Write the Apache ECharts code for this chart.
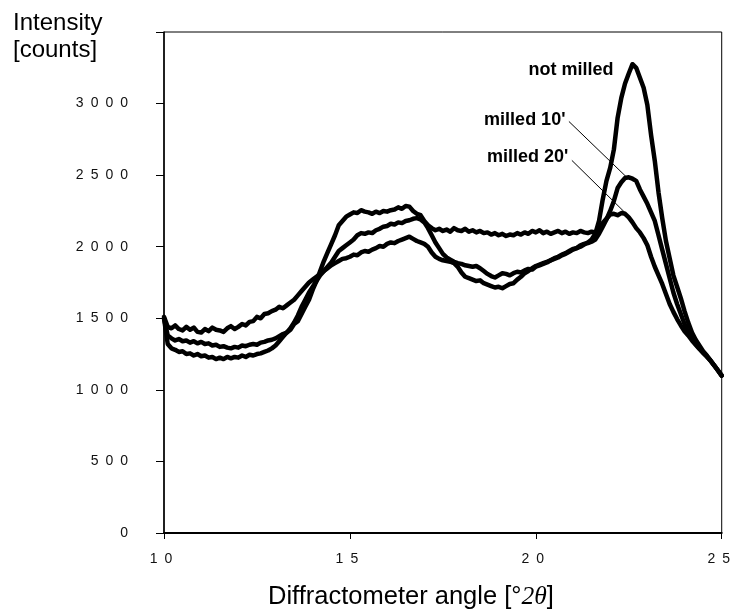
<!DOCTYPE html>
<html>
<head>
<meta charset="utf-8">
<script src="https://cdn.jsdelivr.net/npm/echarts@6/dist/echarts.min.js"></script>
<style>
html,body{margin:0;padding:0;background:#fff;}
#chart{width:733px;height:611px;}
</style>
</head>
<body>
<div id="chart"></div>
<script>
// Diffraction angle grid [°2θ]
const angles = [
10.0,10.1,10.2,10.3,10.4,10.5,10.6,10.7,10.8,10.9,
11.0,11.1,11.2,11.3,11.4,11.5,11.6,11.7,11.8,11.9,
12.0,12.1,12.2,12.3,12.4,12.5,12.6,12.7,12.8,12.9,
13.0,13.1,13.2,13.3,13.4,13.5,13.6,13.7,13.8,13.9,
14.0,14.1,14.2,14.3,14.4,14.5,14.6,14.7,14.8,14.9,
15.0,15.1,15.2,15.3,15.4,15.5,15.6,15.7,15.8,15.9,
16.0,16.1,16.2,16.3,16.4,16.5,16.6,16.7,16.8,16.9,
17.0,17.1,17.2,17.3,17.4,17.5,17.6,17.7,17.8,17.9,
18.0,18.1,18.2,18.3,18.4,18.5,18.6,18.7,18.8,18.9,
19.0,19.1,19.2,19.3,19.4,19.5,19.6,19.7,19.8,19.9,
20.0,20.1,20.2,20.3,20.4,20.5,20.6,20.7,20.8,20.9,
21.0,21.1,21.2,21.3,21.4,21.5,21.6,21.7,21.8,21.9,
22.0,22.1,22.2,22.3,22.4,22.5,22.6,22.7,22.8,22.9,
23.0,23.1,23.2,23.3,23.4,23.5,23.6,23.7,23.8,23.9,
24.0,24.1,24.2,24.3,24.4,24.5,24.6,24.7,24.8,24.9,
25.0];

const notMilled = [
1510,1440,1430,1450,1425,1415,1440,1420,1435,1405,
1400,1425,1410,1435,1420,1415,1405,1430,1445,1425,
1440,1460,1450,1475,1480,1510,1500,1530,1535,1550,
1560,1580,1570,1590,1610,1630,1660,1690,1720,1750,
1770,1790,1810,1830,1850,1870,1885,1900,1915,1920,
1930,1945,1940,1960,1970,1965,1980,1990,2005,2000,
2020,2030,2025,2040,2050,2060,2070,2055,2040,2030,
2020,2000,1960,1930,1915,1905,1900,1895,1885,1860,
1820,1790,1780,1770,1760,1765,1745,1735,1725,1715,
1720,1710,1725,1740,1745,1770,1790,1815,1830,1850,
1865,1875,1885,1895,1905,1915,1925,1940,1950,1965,
1980,1990,2000,2015,2030,2050,2090,2180,2330,2460,
2550,2680,2900,3040,3140,3210,3275,3250,3180,3110,
2990,2780,2600,2380,2200,2040,1920,1800,1720,1640,
1550,1470,1400,1350,1310,1270,1240,1205,1170,1135,
1100];

const milled10 = [
1500,1380,1360,1345,1355,1340,1345,1330,1340,1325,
1335,1320,1325,1310,1315,1300,1305,1295,1290,1300,
1295,1310,1305,1315,1320,1315,1330,1335,1345,1350,
1360,1375,1390,1400,1430,1470,1520,1580,1630,1680,
1720,1760,1800,1830,1860,1890,1930,1970,1990,2010,
2030,2050,2080,2095,2090,2100,2095,2115,2125,2140,
2145,2160,2155,2170,2165,2180,2185,2195,2200,2190,
2170,2130,2080,2030,1990,1950,1925,1910,1895,1885,
1880,1870,1865,1860,1865,1850,1830,1810,1795,1785,
1800,1815,1810,1800,1815,1825,1820,1835,1845,1840,
1860,1870,1880,1890,1905,1920,1930,1945,1955,1970,
1985,1990,2010,2020,2025,2035,2050,2090,2140,2190,
2250,2320,2410,2450,2480,2485,2475,2460,2400,2350,
2300,2240,2180,2080,1980,1880,1780,1680,1600,1530,
1460,1400,1360,1320,1290,1260,1235,1205,1170,1135,
1100];

const milled20 = [
1500,1320,1290,1280,1265,1270,1250,1255,1240,1250,
1235,1240,1225,1230,1215,1225,1215,1230,1220,1230,
1225,1240,1230,1245,1240,1250,1255,1265,1275,1290,
1310,1340,1370,1400,1420,1460,1480,1530,1580,1630,
1700,1760,1830,1900,1960,2020,2080,2150,2180,2210,
2225,2240,2235,2255,2245,2240,2230,2245,2235,2250,
2245,2255,2260,2275,2265,2285,2280,2250,2230,2220,
2180,2150,2130,2115,2125,2110,2120,2105,2130,2115,
2110,2125,2105,2115,2100,2110,2095,2100,2085,2095,
2080,2090,2075,2085,2080,2095,2085,2100,2090,2110,
2100,2115,2095,2105,2090,2100,2110,2095,2105,2090,
2100,2095,2110,2100,2095,2105,2100,2130,2165,2195,
2225,2230,2220,2235,2230,2205,2170,2130,2100,2060,
2010,1930,1860,1800,1740,1670,1600,1545,1495,1450,
1410,1380,1345,1315,1285,1258,1232,1203,1170,1135,
1100];

const seriesNames = ["not milled", "milled 10'", "milled 20'"];
const xTicks = [10, 15, 20, 25];
const yTicks = [0, 500, 1000, 1500, 2000, 2500, 3000, 3500];

const spaced = v => String(v).split('').join('\u2002');

const chart = echarts.init(document.getElementById('chart'), null, {renderer: 'canvas'});

const lineStyle = {color: '#000', width: 4.5, join: 'round', cap: 'round'};
function mkSeries(name, vals, extra) {
  return Object.assign({
    name: name,
    type: 'line',
    data: angles.map((a, i) => [a, vals[i]]),
    showSymbol: false,
    symbol: 'none',
    lineStyle: lineStyle,
    itemStyle: {color: '#000'},
    animation: false,
    z: 3
  }, extra || {});
}
const annoLabel = {
  show: true, position: 'left', distance: 0,
  fontFamily: 'Liberation Sans, Arial, sans-serif', fontSize: 18, fontWeight: 'bold', color: '#000'
};

const option = {
  animation: false,
  backgroundColor: '#fff',
  grid: {left: 164, right: 10, top: 32, bottom: 78, show: true, borderColor: '#000', borderWidth: 1, backgroundColor: 'transparent'},
  xAxis: {
    type: 'value', min: 10, max: 25, interval: 5,
    axisLine: {show: true, onZero: false, lineStyle: {color: '#000', width: 2}},
    axisTick: {show: true, inside: false, length: 6, lineStyle: {color: '#000', width: 1}},
    axisLabel: {
      margin: 19, color: '#111', fontSize: 14, fontFamily: 'Liberation Sans, Arial, sans-serif',
      padding: [0, 6, 0, 0],
      formatter: v => xTicks.includes(v) ? spaced(v) : ''
    },
    splitLine: {show: false}
  },
  yAxis: {
    type: 'value', min: 0, max: 3500, interval: 500,
    axisLine: {show: true, lineStyle: {color: '#000', width: 1.5}},
    axisTick: {show: true, inside: false, length: 8, lineStyle: {color: '#000', width: 1}},
    axisLabel: {
      margin: 36, color: '#111', fontSize: 14, fontFamily: 'Liberation Sans, Arial, sans-serif',
      padding: [0, 0, 8, 0],
      formatter: v => (yTicks.includes(v) && v !== 3500) ? spaced(v) : ''
    },
    splitLine: {show: false}
  },
  graphic: [
    {
      type: 'text', left: 13, top: 10, z: 10,
      style: {
        text: 'Intensity\n[counts]', fill: '#000',
        font: '24px "Liberation Sans", Arial, sans-serif', lineHeight: 27
      }
    },
    {
      type: 'text', left: 268, top: 584, z: 10,
      style: {
        text: 'Diffractometer angle [°{i|2θ}]', fill: '#000',
        font: '25.5px "Liberation Sans", Arial, sans-serif',
        rich: {i: {fontFamily: '"Liberation Serif", "Times New Roman", serif', fontStyle: 'italic', fontSize: 25.5, fill: '#000'}}
      }
    }
  ],
  series: [
    mkSeries(seriesNames[0], notMilled, {
      markPoint: {
        symbol: 'circle', symbolSize: 1, itemStyle: {color: 'rgba(0,0,0,0)'}, animation: false,
        data: [{coord: [22.1, 3231], label: Object.assign({}, annoLabel, {formatter: seriesNames[0]})}]
      }
    }),
    mkSeries(seriesNames[1], milled10, {
      markPoint: {
        symbol: 'circle', symbolSize: 1, itemStyle: {color: 'rgba(0,0,0,0)'}, animation: false,
        data: [{coord: [20.81, 2882], label: Object.assign({}, annoLabel, {formatter: seriesNames[1]})}]
      },
      markLine: {
        symbol: 'none', silent: true, animation: false,
        lineStyle: {color: '#000', width: 1, type: 'solid'}, label: {show: false},
        data: [[{coord: [20.89, 2875]}, {coord: [22.45, 2484]}]]
      }
    }),
    mkSeries(seriesNames[2], milled20, {
      markPoint: {
        symbol: 'circle', symbolSize: 1, itemStyle: {color: 'rgba(0,0,0,0)'}, animation: false,
        data: [{coord: [20.89, 2624], label: Object.assign({}, annoLabel, {formatter: seriesNames[2]})}]
      },
      markLine: {
        symbol: 'none', silent: true, animation: false,
        lineStyle: {color: '#000', width: 1, type: 'solid'}, label: {show: false},
        data: [[{coord: [20.97, 2603]}, {coord: [22.42, 2233]}]]
      }
    })
  ]
};
chart.setOption(option);
</script>
</body>
</html>
